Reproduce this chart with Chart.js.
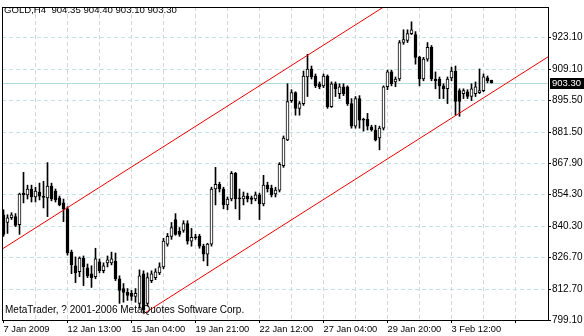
<!DOCTYPE html>
<html><head><meta charset="utf-8">
<script src="https://cdn.jsdelivr.net/npm/chart.js@4.4.0/dist/chart.umd.min.js"></script>
<style>html,body{margin:0;padding:0;background:#fff;overflow:hidden}canvas{display:block}</style>
</head><body>
<canvas id="c" width="584" height="336"></canvas>
<script>
// H4 candles, GOLD
const openP = [845.3,841.9,844.0,844.5,841.0,854.8,854.0,856.6,853.1,855.3,853.1,852.7,857.9,855.7,852.7,850.5,
847.9,828.9,822.9,820.3,826.3,822.0,819.4,818.1,824.6,820.7,824.2,824.2,825.0,817.2,812.9,811.2,
810.8,809.5,806.4,819.4,806.4,816.4,817.7,819.8,822.4,832.4,835.8,843.2,838.0,838.4,841.4,833.7,
835.4,835.8,831.5,828.0,832.4,856.6,858.7,856.6,849.6,852.2,863.5,852.7,852.2,853.5,852.7,852.2,
854.0,850.1,858.3,857.0,854.4,856.1,866.9,878.2,895.4,898.9,892.0,894.1,905.8,909.3,906.2,902.8,
901.9,906.2,892.8,902.8,898.5,901.5,901.5,894.1,884.2,896.3,887.2,887.2,883.8,882.5,879.0,883.3,
901.5,908.0,903.6,904.9,920.9,921.8,924.8,924.4,914.4,904.9,913.6,918.8,904.9,904.9,901.9,900.6,
905.4,908.4,899.8,898.5,899.3,897.2,898.5,898.9,899.8,905.4,904.35];
const highP = [847.5,845.3,846.2,845.8,854.8,863.9,858.3,858.3,857.4,859.2,860.0,868.2,859.2,856.6,853.5,852.2,
848.8,829.8,826.8,826.8,827.2,823.7,822.9,830.6,825.9,824.2,827.2,828.9,828.5,818.5,815.1,812.9,
812.1,812.9,821.1,820.7,819.8,820.7,821.6,824.2,835.0,837.1,841.9,845.8,839.7,842.7,842.7,839.3,
836.7,836.7,832.4,832.8,857.4,866.1,859.6,857.4,853.1,864.3,863.9,856.6,855.3,854.8,853.5,855.3,
854.8,862.6,859.6,858.3,857.4,868.2,879.9,902.8,900.2,899.3,895.0,908.4,915.7,910.6,907.1,903.6,
907.1,906.7,903.6,903.6,902.8,902.8,901.9,896.3,897.2,897.6,887.7,889.8,884.6,884.6,884.2,901.9,
908.8,908.8,905.8,921.8,926.5,926.5,930.0,925.7,914.9,914.4,920.9,919.6,908.0,905.8,902.8,905.8,
910.1,910.6,900.6,900.6,900.2,902.8,903.6,909.3,907.1,906.2,904.40];
const lowP = [835.8,837.1,843.2,840.1,836.7,850.5,852.2,850.9,850.9,851.8,848.3,844.5,851.4,850.9,849.2,842.3,
827.6,819.4,815.5,818.1,814.2,817.7,813.4,817.2,819.8,819.8,822.4,823.3,816.4,806.4,806.9,807.7,
807.7,806.9,804.3,802.1,805.2,815.5,816.8,819.0,821.6,831.5,834.5,836.3,835.8,837.6,832.4,831.5,
834.5,830.6,825.0,822.9,831.5,849.6,855.3,847.9,847.5,851.4,847.9,843.2,849.6,850.9,850.1,851.4,
843.2,849.2,855.3,853.1,853.1,855.3,866.1,877.8,894.6,889.0,889.0,893.3,897.2,904.9,901.1,900.6,
901.1,892.0,892.4,897.2,896.3,897.6,893.3,883.3,883.3,883.3,882.0,882.5,882.0,877.7,873.8,882.5,
900.2,901.9,901.5,904.1,920.1,920.9,924.4,911.4,901.9,904.1,912.7,904.1,900.6,896.3,896.3,894.1,
904.1,889.0,888.5,896.3,896.3,895.4,897.2,898.5,899.3,903.2,903.10];
const closeP = [836.7,844.0,845.3,840.6,854.4,854.0,856.6,853.1,855.7,853.5,852.9,857.9,852.2,851.8,849.6,847.9,
828.5,823.3,819.8,826.3,822.4,818.5,817.7,825.9,820.7,822.9,825.5,825.9,817.2,812.1,811.2,809.9,
809.5,810.8,818.5,803.4,817.7,819.4,820.3,822.4,833.7,835.8,839.7,836.7,836.7,841.4,833.7,835.4,
835.2,831.5,828.0,832.4,856.6,858.7,856.6,849.6,852.2,863.5,852.2,852.2,853.5,852.2,852.0,854.0,
850.1,858.3,856.6,854.0,856.1,867.4,879.0,895.0,898.9,892.0,894.1,906.2,909.3,905.8,901.9,901.5,
906.2,892.8,902.8,900.6,901.5,898.5,894.1,884.2,896.3,886.8,886.8,884.2,882.5,878.2,883.3,901.5,
908.0,902.8,904.9,920.9,922.2,924.8,926.5,914.4,904.9,913.6,918.8,904.9,904.1,901.9,900.6,904.9,
908.4,895.0,895.0,899.8,897.2,900.6,901.5,899.8,905.8,904.1,903.30];

const xTickLabels = ['7 Jan 2009','12 Jan 13:00','15 Jan 04:00','19 Jan 21:00','22 Jan 12:00','27 Jan 04:00','29 Jan 20:00','3 Feb 12:00'];
const xGridBars = [0,8,16,24,32,40,48,56,64,72,80,88,96,104,112,120,128];
const yTickValues = [923.10,909.10,895.50,881.50,867.90,854.30,840.30,826.70,812.70,799.10];
const yRange = [799.1, 936.5];
const xRange = [-0.375, 136.125];

// trend channel anchors: bar index, price
const upperChannel = [{x:-0.375, y:830.2},{x:136.125, y:982.3}];
const lowerChannel = [{x:35, y:801.8},{x:136.125, y:914.6}];

const symbolInfo = 'GOLD,H4  904.35 904.40 903.10 903.30';
const copyright = 'MetaTrader, ? 2001-2006 MetaQuotes Software Corp.';

const FONT = 'Liberation Sans';
const idx = openP.map((_, i) => i);
const wickData = idx.map(i => ({x:i, y:[lowP[i], highP[i]]}));
const bodyData = idx.map(i => ({x:i, y:[openP[i], closeP[i]]}));
const bodyFill = idx.map(i => closeP[i] >= openP[i] ? '#ffffff' : '#000000');

const decor = {
  id: 'decor',
  beforeDatasetsDraw(chart) {
    const {ctx, chartArea: a, scales: {y}} = chart;
    const last = closeP[closeP.length - 1];
    const py = Math.round(y.getPixelForValue(last)) + 0.5;
    ctx.save();
    ctx.strokeStyle = '#b4dada'; ctx.lineWidth = 1;
    ctx.beginPath(); ctx.moveTo(a.left, py); ctx.lineTo(a.right, py); ctx.stroke();
    ctx.restore();
  },
  afterDraw(chart) {
    const {ctx, chartArea: a, scales: {y}} = chart;
    ctx.save();
    ctx.strokeStyle = '#000'; ctx.lineWidth = 1;
    ctx.strokeRect(a.left + 0.5, a.top + 0.5, a.right - a.left, a.bottom - a.top);
    const last = closeP[closeP.length - 1];
    const py = Math.round(y.getPixelForValue(last));
    ctx.fillStyle = '#000';
    ctx.fillRect(a.right + 2, py - 5, chart.width - a.right - 2, 11);
    ctx.textBaseline = 'middle';
    ctx.textAlign = 'left';
    ctx.font = '9.5px "' + FONT + '"';
    ctx.fillStyle = '#fff';
    ctx.fillText(last.toFixed(2), a.right + 4, py + 0.5);
    ctx.fillStyle = '#000';
    ctx.font = '9.6px "' + FONT + '"';
    ctx.fillText(symbolInfo, 4, 10);
    ctx.font = '10px "' + FONT + '"';
    ctx.fillText(copyright, 5, a.bottom - 10);
    ctx.restore();
  }
};

new Chart(document.getElementById('c'), {
  type: 'bar',
  data: {
    datasets: [
      {type:'line', data: upperChannel, borderColor:'#ee0000', borderWidth:1, pointRadius:0, order:0, clip:0},
      {type:'line', data: lowerChannel, borderColor:'#ee0000', borderWidth:1, pointRadius:0, order:0, clip:0},
      {data: bodyData, backgroundColor: bodyFill, borderColor:'#000', borderWidth:1, borderSkipped:false,
       barThickness:3, minBarLength:1, grouped:false, order:1},
      {data: wickData, backgroundColor:'#000', borderWidth:0, barThickness:1, grouped:false, order:2}
    ]
  },
  options: {
    responsive:false, animation:false, devicePixelRatio:1,
    layout:{padding:{left:2, top:2, right:0, bottom:0}},
    plugins:{legend:{display:false}, tooltip:{enabled:false}},
    scales: {
      x: {
        type:'linear', min:xRange[0], max:xRange[1], offset:false,
        afterFit: s => { s.height = 16; },
        afterBuildTicks: s => { s.ticks = xGridBars.map(v => ({value:v})); },
        grid:{offset:false, color: c => c.index === 0 ? 'rgba(0,0,0,0)' : '#d6d6d6', borderDash:[4,3],
              tickLength:3, tickColor: c => c.index % 2 === 0 ? '#000' : 'rgba(0,0,0,0)', tickBorderDash:[]},
        border:{display:false, dash:[4,3]},
        ticks:{align:'start', autoSkip:false, maxRotation:0, minRotation:0, padding:1, color:'#000',
               font:{family:FONT, size:9.3},
               callback: v => (v % 16 === 0 && xTickLabels[v / 16]) ? xTickLabels[v / 16] : ''}
      },
      y: {
        type:'linear', position:'right', min:yRange[0], max:yRange[1],
        afterFit: s => { s.width = 36; },
        afterBuildTicks: s => { s.ticks = yTickValues.map(v => ({value:v})); },
        grid:{color:'#c2e4e4', borderDash:[4,3], tickLength:3, tickColor:'#000', tickBorderDash:[]},
        border:{display:false, dash:[4,3]},
        ticks:{autoSkip:false, padding:1, color:'#000', font:{family:FONT, size:10}, callback: v => v.toFixed(2)}
      }
    }
  },
  plugins:[decor]
});
</script>
</body></html>
